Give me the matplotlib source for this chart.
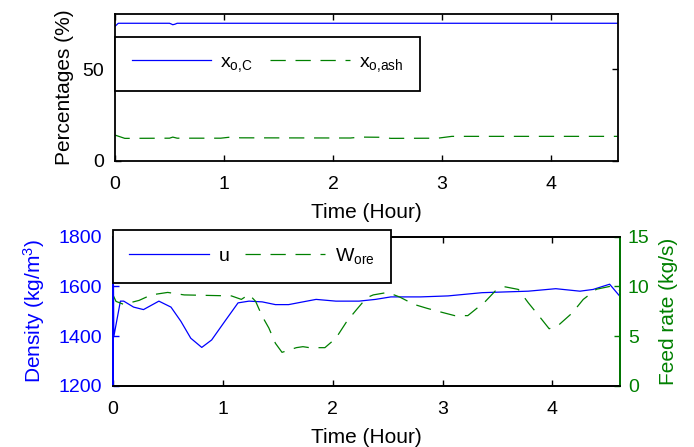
import matplotlib
matplotlib.use("Agg")
import matplotlib.pyplot as plt
import numpy as np

plt.rcParams['font.family'] = ['Liberation Sans', 'DejaVu Sans']
plt.rcParams['mathtext.fontset'] = 'custom'
plt.rcParams['mathtext.rm'] = 'Liberation Sans'
plt.rcParams['lines.scale_dashes'] = False

# ---- data: top panel (percentages) ----
t_xc = [0.0, 0.03, 0.50, 0.52, 0.53, 0.55, 0.57, 4.61]
xc = [73.4, 75.1, 75.1, 74.6, 74.3, 74.6, 75.1, 75.1]

t_xash = [0.0, 0.02, 0.09, 0.50, 0.53, 0.57, 0.97, 1.06, 1.15, 2.16, 2.25, 2.44, 2.53, 2.96, 3.09, 4.61]
xash = [14.0, 13.6, 12.2, 12.3, 12.9, 12.3, 12.3, 12.9, 12.5, 12.4, 12.9, 12.8, 12.2, 12.3, 13.3, 13.3]

# ---- data: bottom panel ----
t_u = [0.0, 0.004, 0.007, 0.01, 0.03, 0.07, 0.10, 0.19, 0.28, 0.42, 0.53, 0.62, 0.71, 0.81,
       0.90, 1.02, 1.14, 1.24, 1.36, 1.48, 1.60, 1.73, 1.85, 2.03, 2.24, 2.39, 2.53, 2.80,
       3.05, 3.36, 3.78, 4.03, 4.25, 4.37, 4.52, 4.61]
u = [1200, 1600, 1602, 1398, 1446, 1541, 1541, 1517, 1507, 1541, 1517, 1460, 1392, 1355,
     1385, 1460, 1534, 1541, 1538, 1527, 1527, 1538, 1548, 1541, 1541, 1548, 1558, 1558,
     1562, 1575, 1581, 1591, 1581, 1588, 1609, 1562]

t_w = [0.0, 0.03, 0.10, 0.24, 0.35, 0.50, 0.65, 1.08, 1.17, 1.24, 1.30, 1.36, 1.42, 1.48,
       1.54, 1.67, 1.73, 1.79, 1.93, 2.03, 2.13, 2.22, 2.31, 2.37, 2.50, 2.61, 2.74, 2.86,
       2.96, 3.11, 3.23, 3.39, 3.48, 3.57, 3.69, 3.78, 3.88, 3.97, 4.06, 4.18, 4.28, 4.40,
       4.52, 4.58, 4.61]
w_ore = [9.2, 8.5, 8.2, 8.6, 9.15, 9.4, 9.15, 9.05, 8.7, 9.2, 8.5, 7.0, 5.83, 4.29,
         3.38, 3.85, 3.95, 3.85, 3.85, 4.8, 6.5, 7.7, 8.87, 9.15, 9.4, 8.94, 8.2, 7.8,
         7.5, 7.07, 7.07, 8.5, 9.55, 9.96, 9.7, 8.36, 7.0, 5.75, 6.16, 7.34, 8.7, 9.72,
         10.0, 9.8, 9.6]

x_ticks = [0, 1, 2, 3, 4]
top_yticks = [0, 50]
dens_ticks = [1200, 1400, 1600, 1800]
feed_ticks = [0, 5, 10, 15]

BLUE = '#0000ff'
GREEN = '#008000'
FS = 14
LFS = 15
DASH = (0, (11, 7))

fig = plt.figure(figsize=(6.94, 4.47), dpi=100)
ax1 = fig.add_axes([0.1657, 0.6405, 0.7243, 0.3275])
ax2 = fig.add_axes([0.1624, 0.1365, 0.7303, 0.334])
ax3 = ax2.twinx()

# ---- top panel ----
l1, = ax1.plot(t_xc, xc, color=BLUE, lw=0.9, label=r'$\mathregular{x_{o{,}C}}$')
l2, = ax1.plot(t_xash, xash, color=GREEN, lw=0.9, linestyle=DASH,
               label=r'$\mathregular{x_{o{,}ash}}$')
ax1.set_xlim(0, 4.61)
ax1.set_ylim(0, 80)
ax1.set_xticks(x_ticks)
ax1.set_yticks(top_yticks)
ax1.tick_params(axis='x', direction='in', length=4, width=1, top=True,
                labelsize=FS, pad=11)
ax1.tick_params(axis='y', direction='in', length=4, width=1, right=True,
                labelsize=FS, pad=7.7)
for s in ax1.spines.values():
    s.set_linewidth(1.3)
ax1.set_xlabel('Time (Hour)', fontsize=LFS, labelpad=7)
ax1.set_ylabel('Percentages (%)', fontsize=LFS, labelpad=6)
leg1 = ax1.legend(handles=[l1, l2], ncol=2, loc='upper left',
                  bbox_to_anchor=(0, 0.845), borderaxespad=0, fontsize=FS,
                  frameon=True, fancybox=False, handlelength=4.1,
                  handletextpad=0.45, columnspacing=0.9, borderpad=0.85)
leg1.get_frame().set_edgecolor('black')
leg1.get_frame().set_linewidth(1.3)
leg1.get_frame().set_alpha(1)

# ---- bottom panel ----
l3, = ax2.plot(t_u, u, color=BLUE, lw=0.9, label='u')
l4, = ax3.plot(t_w, w_ore, color=GREEN, lw=0.9, linestyle=DASH,
               label=r'$\mathregular{W_{ore}}$')
ax2.set_xlim(0, 4.61)
ax2.set_ylim(1200, 1800)
ax3.set_ylim(0, 15)
ax2.set_xticks(x_ticks)
ax2.set_yticks(dens_ticks)
ax3.set_yticks(feed_ticks)
ax2.tick_params(axis='x', direction='in', length=4, width=1, top=True,
                labelsize=FS, pad=11)
ax2.tick_params(axis='y', direction='in', length=4, width=1, colors=BLUE,
                labelsize=FS, pad=7.7)
ax3.tick_params(axis='y', direction='in', length=4, width=1, colors=GREEN,
                labelsize=FS, pad=6)
for ax in (ax2, ax3):
    for s in ax.spines.values():
        s.set_linewidth(1.3)
ax3.spines['left'].set_color(BLUE)
ax3.spines['right'].set_color(GREEN)
ax2.spines['left'].set_color(BLUE)
ax2.set_xlabel('Time (Hour)', fontsize=LFS, labelpad=7)
ax2.set_ylabel(r'Density (kg/m$\mathregular{^3}$)', fontsize=LFS, color=BLUE, labelpad=8)
ax3.set_ylabel('Feed rate (kg/s)', fontsize=LFS, color=GREEN, labelpad=7)
leg2 = ax3.legend(handles=[l3, l4], ncol=2, loc='upper left',
                  bbox_to_anchor=(0, 1.048), borderaxespad=0, fontsize=FS,
                  frameon=True, fancybox=False, handlelength=4.1,
                  handletextpad=0.5, columnspacing=0.8, borderpad=0.85)
leg2.get_frame().set_edgecolor('black')
leg2.get_frame().set_linewidth(1.3)
leg2.get_frame().set_alpha(1)

fig.savefig('out.png', dpi=100)
